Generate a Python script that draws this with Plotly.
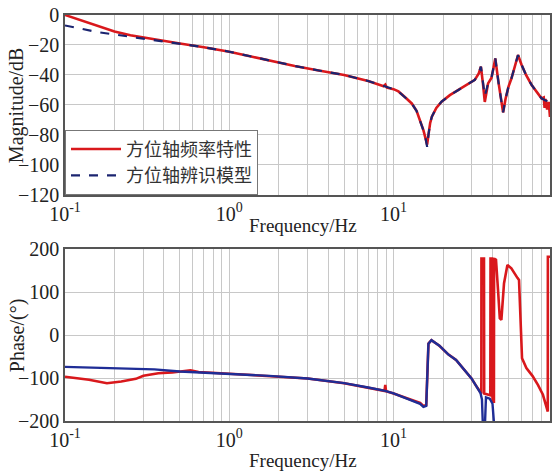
import plotly.graph_objects as go
from plotly.subplots import make_subplots

# ---------------- magnitude (dB) ----------------
mag_model_f = [0.1, 0.13, 0.16, 0.2, 0.25, 0.3, 0.4, 0.5, 0.7, 1.0, 1.4, 1.75, 2.5, 3.5,
               5, 7, 8.9, 10, 10.7, 11.8, 12.9, 13.8, 14.5, 15.2, 15.7, 16.0, 16.3, 16.7,
               17.1, 18.2, 19.6, 22, 24.8, 28, 31.2, 33, 34, 35.0, 35.9, 37.6, 39.4, 40.6,
               41.6, 43.5, 45.2, 46.4, 48, 50, 52.2, 55, 57.2, 60, 64, 69.2, 74, 79.5, 84,
               88.9, 90]
mag_model_db = [-7, -9.5, -11.5, -13, -14.5, -15.5, -17.5, -19, -21.5, -24.5, -28, -30.5, -34, -37,
                -40, -44, -47.5, -49.5, -51, -55, -59, -64, -70, -77, -83, -88, -80, -72,
                -67.8, -62, -57.8, -53.5, -50, -46.5, -43.3, -39, -34.4, -45, -54, -45.6, -42, -35,
                -29, -45, -58, -65, -56, -48, -42.2, -33, -26.7, -33, -40, -46.7, -51, -55.6, -57,
                -57.8, -58]

mag_meas_f = [0.1, 0.13, 0.16, 0.2, 0.25, 0.3, 0.4, 0.5, 0.7, 1.0, 1.4, 1.75, 2.5, 3.5,
              5, 7, 8.7, 8.9, 9.1, 10, 10.7, 11.8, 12.9, 13.8, 14.5, 15.2, 15.7, 16.0, 16.3, 16.7,
              17.1, 18.2, 19.6, 22, 24.8, 28, 31.2, 33, 34, 35.0, 35.9, 37.6, 39.4, 40.6,
              41.6, 43.5, 45.2, 46.4, 48, 50, 52.2, 55, 57.2, 60, 64, 69.2, 74, 79.5, 82,
              83, 84, 86, 88, 89.5]
mag_meas_db = [0, -4, -7.5, -11, -13.5, -15, -17.5, -19, -21.5, -24.5, -28, -30.5, -34, -37,
               -40, -44, -47.5, -46.5, -48.5, -49.5, -51, -55, -59, -64, -70, -77, -83, -86.5, -80, -72,
               -67.8, -62, -57.8, -53.5, -50, -46.5, -43.3, -39, -34.4, -46, -58, -45.6, -42, -35,
               -29, -45, -58, -65, -56, -48, -42.2, -33, -26.7, -33, -40, -46.7, -51, -55.6, -55,
               -62, -56, -63, -58, -68]

# ---------------- phase (deg) ----------------
phase_model_f = [0.1, 0.2, 0.35, 0.5, 1.0, 1.75, 3, 5, 7, 8.9, 10, 12.5, 14.5, 15.2, 15.8,
                 16.3, 17, 19, 21.5, 24, 27, 29.8, 32, 33.8, 34.5, 35.1, 35.8, 36.5, 38.5,
                 40.0, 41.3]
phase_model_deg = [-74, -77.5, -80, -85, -90, -95, -101, -112, -122, -130, -136, -150, -160, -167, -165,
                   -20, -12, -25, -45, -58, -80, -101, -120, -135, -150, -230, -230, -145, -148,
                   -160, -230]

phase_meas_f = [0.1, 0.14, 0.18, 0.22, 0.27, 0.3, 0.37, 0.45, 0.58, 0.65, 1.0, 1.75, 3, 5, 7,
                8.8, 8.9, 9.0, 10, 12.5, 14.5, 15.2, 15.8, 16.3, 17, 19, 21.5, 24, 27, 29.8,
                32, 33.8, 34.2, 34.25, 35.5, 35.6, 38.8, 38.9, 39.9, 40.0, 40.8, 40.9, 42.0,
                43.3, 44.3, 45.3, 47, 49.3, 52.1, 56.7, 58, 60.5, 64.3, 70, 75.6, 81.1, 84.9,
                86.8, 86.9, 89.5]
phase_meas_deg = [-97, -104, -112, -108, -102, -94.6, -89, -87, -82, -86, -90, -95, -101, -112, -122,
                  -130, -116, -131, -136, -150, -158, -165, -163, -20, -12, -25, -45, -58, -80, -101,
                  -120, -134, -136, 178, 178, -136, -140, 178, 178, -155, -155, 178, 175,
                  100, 39, 35, 120, 163, 155, 133, 128, -54, -77, -95, -116, -139, -163,
                  -178, 182, 182]

# ---------------- axis ticks ----------------
decade_ticks = [0.1, 1, 10]
decade_labels = ["10<sup>-1</sup>", "10<sup>0</sup>", "10<sup>1</sup>"]
minor_freqs = [m * 10 ** e for e in (-1, 0, 1) for m in range(2, 10)]
mag_ticks = [0, -20, -40, -60, -80, -100, -120]
phase_ticks = [200, 100, 0, -100, -200]

legend_names = ["方位轴频率特性", "方位轴辨识模型"]
red = "#d9181c"
navy = "#1b2470"
blue = "#1f2d96"
ink = "#222222"
grid = "#c8c8c8"

serif = "Liberation Serif"
cjk = "Noto Sans CJK SC"

# subplot geometry (paper fractions)
top_dom = [0.557, 1.0]
bot_dom = [0.0, 0.4236]

fig = make_subplots(rows=2, cols=1, vertical_spacing=0.133)

fig.add_trace(go.Scatter(x=mag_meas_f, y=mag_meas_db, mode="lines", name=legend_names[0],
                         line=dict(color=red, width=2.6)), row=1, col=1)
fig.add_trace(go.Scatter(x=mag_model_f, y=mag_model_db, mode="lines", name=legend_names[1],
                         line=dict(color=navy, width=2.2, dash="dash")), row=1, col=1)
fig.add_trace(go.Scatter(x=phase_meas_f, y=phase_meas_deg, mode="lines", showlegend=False,
                         line=dict(color=red, width=2.6)), row=2, col=1)
fig.add_trace(go.Scatter(x=phase_model_f, y=phase_model_deg, mode="lines", showlegend=False,
                         line=dict(color=blue, width=2.4)), row=2, col=1)

xaxis_style = dict(type="log", range=[-1, 1.952], tickvals=decade_ticks, ticktext=decade_labels,
                   showgrid=True, gridcolor=grid, gridwidth=1, zeroline=False,
                   minor=dict(tickvals=minor_freqs, showgrid=True, gridcolor=grid,
                              gridwidth=1, ticks=""),
                   showline=True, linecolor="#555555", linewidth=1.5, mirror=True,
                   ticks="", tickfont=dict(family=serif, size=20, color=ink))
yaxis_style = dict(showgrid=True, gridcolor=grid, gridwidth=1, zeroline=False,
                   showline=True, linecolor="#555555", linewidth=1.5, mirror=True,
                   ticks="", tickfont=dict(family=serif, size=20, color=ink))

fig.update_xaxes(**xaxis_style)
fig.update_yaxes(**yaxis_style)
fig.update_yaxes(range=[-120, 0], tickvals=mag_ticks, row=1, col=1)
fig.update_yaxes(range=[-200, 200], tickvals=phase_ticks, row=2, col=1)
fig.update_layout(xaxis=dict(domain=[0, 1]), yaxis=dict(domain=top_dom),
                  xaxis2=dict(domain=[0, 1]), yaxis2=dict(domain=bot_dom))

# axis titles
for yp in (top_dom[0] - 31 / 406, -39 / 406):
    fig.add_annotation(text="Frequency/Hz", xref="paper", yref="paper", x=0.49, y=yp,
                       xanchor="center", yanchor="middle", showarrow=False,
                       font=dict(family=serif, size=19, color=ink))
for txt, dom in (("Magnitude/dB", top_dom), ("Phase/(°)", bot_dom)):
    fig.add_annotation(text=txt, xref="paper", yref="paper", x=-48 / 487,
                       y=(dom[0] + dom[1]) / 2, textangle=-90, showarrow=False,
                       xanchor="center", yanchor="middle",
                       font=dict(family=serif, size=20, color=ink))

fig.update_layout(
    width=553, height=471,
    margin=dict(l=65, r=1, t=15, b=50),
    paper_bgcolor="white", plot_bgcolor="white",
    legend=dict(x=0.0, y=top_dom[0], xanchor="left", yanchor="bottom",
                bgcolor="white", bordercolor="#777777", borderwidth=1,
                font=dict(family=cjk, size=18, color="#333333"),
                itemwidth=50, tracegroupgap=0),
)

fig.write_html("out.html")
